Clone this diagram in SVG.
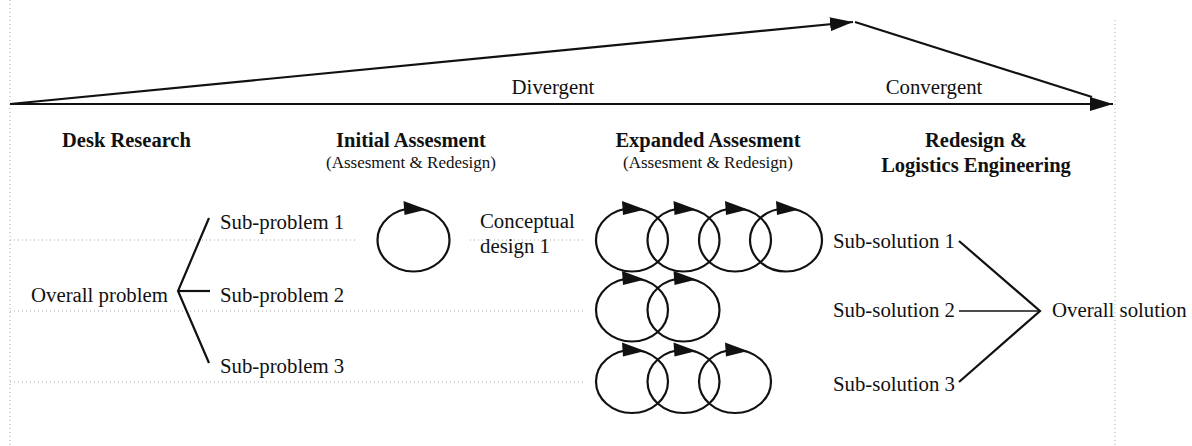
<svg xmlns="http://www.w3.org/2000/svg" width="1192" height="446" viewBox="0 0 1192 446">
<style>
.t{font-family:"Liberation Serif","Times New Roman",serif;font-size:20.8px;fill:#111}
.b{font-weight:bold;font-size:20.5px}
.s{font-size:17px}
.m{text-anchor:middle}
.dot{stroke:#aaa;stroke-width:1;stroke-dasharray:1 3;fill:none}
.ln{stroke:#111;stroke-width:2.2;fill:none}
.cyc{stroke:#111;stroke-width:2.2;fill:none}
</style>
<defs>
<marker id="ah" viewBox="0 0 23 14" refX="23" refY="7" markerWidth="23" markerHeight="14" markerUnits="userSpaceOnUse" orient="auto">
<path d="M0,0 L23,7 L0,14 Z" fill="#111"/>
</marker>
<g id="cycle">
<ellipse class="cyc" cx="0" cy="0" rx="36" ry="31.5"/>
<path d="M-10,-39 L13,-30.5 L-9,-25 Z" fill="#111"/>
</g>
</defs>
<g id="guides">
<line class="dot" x1="10" y1="0" x2="10" y2="446"/>
<line class="dot" x1="1115" y1="20" x2="1115" y2="446"/>
<line class="dot" x1="10" y1="240" x2="357" y2="240"/>
<line class="dot" x1="470" y1="240" x2="583" y2="240"/>
<line class="dot" x1="10" y1="311" x2="583" y2="311"/>
<line class="dot" x1="10" y1="382" x2="583" y2="382"/>
</g>
<g id="connectors">
<line class="ln" x1="10" y1="104" x2="853" y2="22" marker-end="url(#ah)"/>
<line class="ln" x1="855" y1="22" x2="1092" y2="97"/>
<line class="ln" x1="10" y1="104" x2="1113" y2="104" marker-end="url(#ah)"/>
<polyline class="ln" points="209,218 178,291 209,363"/>
<line class="ln" x1="178" y1="291" x2="210" y2="291"/>
<polyline class="ln" points="959,241 1040,311 959,382"/>
<line class="ln" x1="959" y1="311" x2="1040" y2="311" style="stroke-width:1.6"/>
</g>
<g id="phase-labels">
<text class="t m" x="553" y="94">Divergent</text>
<text class="t m" x="934" y="94">Convergent</text>
</g>
<g id="desk-research"><text class="t b" x="62" y="147">Desk Research</text></g>
<g id="initial-assesment">
<text class="t b m" x="411" y="147">Initial Assesment</text>
<text class="t s m" x="411" y="168">(Assesment &amp; Redesign)</text>
</g>
<g id="expanded-assesment">
<text class="t b m" x="708" y="147">Expanded Assesment</text>
<text class="t s m" x="708" y="168">(Assesment &amp; Redesign)</text>
</g>
<g id="redesign">
<text class="t b m" x="976" y="147">Redesign &amp;</text>
<text class="t b m" x="976" y="172">Logistics Engineering</text>
</g>
<g id="overall-problem"><text class="t" x="31" y="302">Overall problem</text></g>
<g id="sub-problem-1"><text class="t" x="220" y="229">Sub-problem 1</text></g>
<g id="sub-problem-2"><text class="t" x="220" y="302">Sub-problem 2</text></g>
<g id="sub-problem-3"><text class="t" x="220" y="373">Sub-problem 3</text></g>
<g id="initial-cycle"><use href="#cycle" x="413.5" y="240"/></g>
<g id="conceptual-design-1">
<text class="t" x="480" y="228">Conceptual</text>
<text class="t" x="480" y="253">design 1</text>
</g>
<g id="expanded-cycles-1">
<use href="#cycle" x="632" y="240"/>
<use href="#cycle" x="683.5" y="240"/>
<use href="#cycle" x="735" y="240"/>
<use href="#cycle" x="786" y="240"/>
</g>
<g id="expanded-cycles-2">
<use href="#cycle" x="632" y="310"/>
<use href="#cycle" x="683.5" y="310"/>
</g>
<g id="expanded-cycles-3">
<use href="#cycle" x="632" y="381.5"/>
<use href="#cycle" x="683.5" y="381.5"/>
<use href="#cycle" x="735" y="381.5"/>
</g>
<g id="sub-solution-1"><text class="t" x="833" y="248">Sub-solution 1</text></g>
<g id="sub-solution-2"><text class="t" x="833" y="317">Sub-solution 2</text></g>
<g id="sub-solution-3"><text class="t" x="833" y="391">Sub-solution 3</text></g>
<g id="overall-solution"><text class="t" x="1052" y="317">Overall solution</text></g>
</svg>
